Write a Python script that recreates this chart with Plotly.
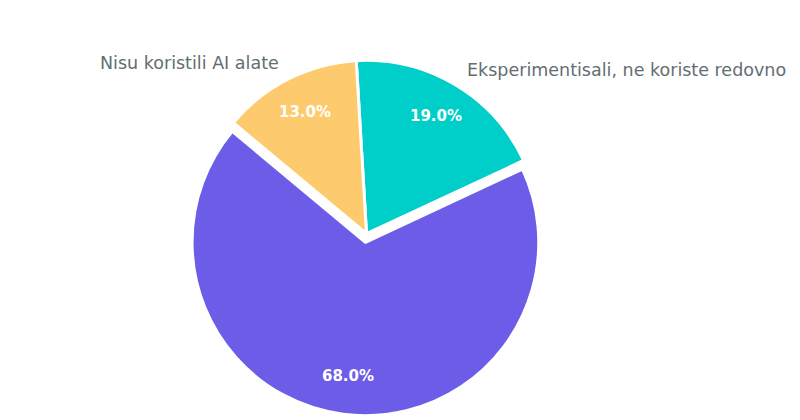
import math
import plotly.graph_objects as go

# -----------------------------
# Data
# -----------------------------
labels = ["Eksperimentisali, ne koriste redovno", "Redovno koriste AI alate", "Nisu koristili AI alate"]
values = [19, 68, 13]
colors = ["#00cec9", "#6c5ce7", "#fdcb6e"]
pulls = [0, 0.05, 0]

# outside captions for the two smaller slices
caption_text = ["Nisu koristili AI alate", "Eksperimentisali, ne koriste redovno"]

# -----------------------------
# Pie geometry (pixels, 800x420 canvas)
# -----------------------------
W, H = 800, 420
ROTATION = -3.4
PIE_CX, PIE_CY, PIE_R = 367, 231.7, 171.5
TEXT_FRAC = 0.79
# annotation boxes render a little right/below their anchor, compensate
ANN_DX, ANN_DY = -8.5, -7


def to_paper(px, py):
    return (px + ANN_DX) / W, 1 - (py + ANN_DY) / H


fig = go.Figure(
    go.Pie(
        labels=labels,
        values=values,
        sort=False,
        direction="clockwise",
        rotation=ROTATION,
        pull=pulls,
        marker=dict(colors=colors, line=dict(color="white", width=3)),
        textinfo="none",
        domain=dict(x=[0.1953, 0.701], y=[0.0293, 0.896]),
        showlegend=False,
    )
)

# -----------------------------
# Percent labels, placed along each slice's mid-angle
# -----------------------------
total = sum(values)
start = 0
for v, p in zip(values, pulls):
    mid = math.radians(ROTATION + (start + v / 2) / total * 360)
    dx, dy = math.sin(mid), -math.cos(mid)
    cx = PIE_CX + dx * p * PIE_R
    cy = PIE_CY + dy * p * PIE_R
    ax, ay = to_paper(cx + dx * TEXT_FRAC * PIE_R, cy + dy * TEXT_FRAC * PIE_R)
    fig.add_annotation(x=ax, y=ay, xref="paper", yref="paper",
                       text=f"{v / total * 100:.1f}%", showarrow=False,
                       xanchor="center", yanchor="middle",
                       font=dict(family="DejaVu Sans", size=15, color="white", weight="bold"))
    start += v

# -----------------------------
# Captions placed beside the slices
# -----------------------------
ax, ay = to_paper(281, 62)
fig.add_annotation(x=ax, y=ay, xref="paper", yref="paper",
                   text=caption_text[0], showarrow=False, xanchor="right", yanchor="middle",
                   font=dict(family="DejaVu Sans", size=17.5, color="#636e72"))
ax, ay = to_paper(465, 69)
fig.add_annotation(x=ax, y=ay, xref="paper", yref="paper",
                   text=caption_text[1], showarrow=False, xanchor="left", yanchor="middle",
                   font=dict(family="DejaVu Sans", size=17.5, color="#636e72"))

fig.update_layout(
    width=W,
    height=H,
    margin=dict(l=0, r=0, t=0, b=0),
    paper_bgcolor="white",
    plot_bgcolor="white",
    font=dict(family="DejaVu Sans"),
)

fig.write_html("out.html")
